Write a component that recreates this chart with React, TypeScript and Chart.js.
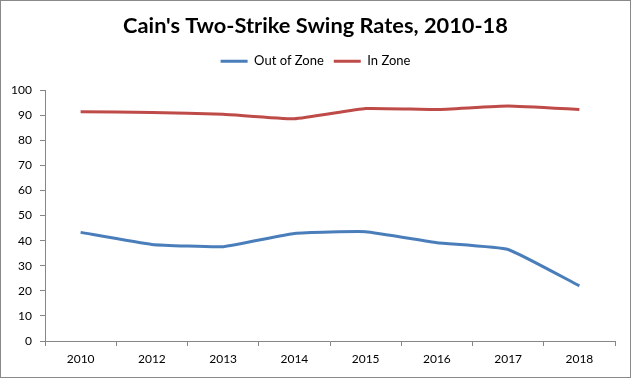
import { useEffect, useRef } from 'react';
import { Chart, registerables } from 'chart.js';

Chart.register(...registerables);

const years = ['2010', '2012', '2013', '2014', '2015', '2016', '2017', '2018'];
const outOfZone = [43.3, 38.5, 37.6, 42.9, 43.6, 39.2, 36.5, 22.0];
const inZone = [91.4, 91.1, 90.4, 88.6, 92.7, 92.3, 93.7, 92.3];
const yTicks = [0, 10, 20, 30, 40, 50, 60, 70, 80, 90, 100];

const FONT = 'Lato, "Open Sans", sans-serif';
const AXIS = '#868686';

export default function App() {
  const ref = useRef<HTMLCanvasElement | null>(null);

  useEffect(() => {
    document.body.style.margin = '0';
    const canvas = ref.current;
    if (!canvas) return;

    const background = {
      id: 'bg',
      beforeDraw(chart: any) {
        const { ctx, width, height } = chart;
        ctx.save();
        ctx.fillStyle = '#ffffff';
        ctx.fillRect(0, 0, width, height);
        ctx.strokeStyle = '#898989';
        ctx.lineWidth = 1;
        ctx.strokeRect(0.5, 0.5, width - 1, height - 1);
        ctx.restore();
      },
    };

    const chart = new Chart(canvas, {
      type: 'line',
      data: {
        labels: years,
        datasets: [
          {
            label: 'Out of Zone',
            data: outOfZone,
            xAxisID: 'x',
            yAxisID: 'y',
            borderColor: '#4A7EBB',
            backgroundColor: '#4A7EBB',
            borderWidth: 3,
            pointRadius: 0,
            tension: 0.12,
          },
          {
            label: 'In Zone',
            data: inZone,
            xAxisID: 'x',
            yAxisID: 'y',
            borderColor: '#BE4B48',
            backgroundColor: '#BE4B48',
            borderWidth: 3,
            pointRadius: 0,
            tension: 0.12,
          },
        ],
      },
      options: {
        responsive: false,
        animation: false,
        devicePixelRatio: 1,
        layout: { padding: { left: 0, right: 0, top: 0, bottom: 0 } },
        plugins: {
          title: {
            display: true,
            text: "Cain's Two-Strike Swing Rates, 2010-18",
            color: '#000000',
            font: { family: FONT, size: 21.8, weight: 'bold', lineHeight: 1.2 },
            padding: { top: 13, bottom: 5.5 },
          },
          legend: {
            display: true,
            position: 'top',
            labels: {
              color: '#000000',
              font: { family: FONT, size: 13 },
              boxWidth: 27,
              boxHeight: 3,
              padding: 10,
              generateLabels: (c: any) =>
                Chart.defaults.plugins.legend.labels
                  .generateLabels(c)
                  .map((l: any) => ({ ...l, lineWidth: 0 })),
            },
          },
          tooltip: { enabled: false },
        },
        scales: {
          x: {
            type: 'category',
            offset: true,
            grid: {
              display: true,
              offset: true,
              drawOnChartArea: false,
              drawTicks: true,
              tickLength: 5,
              color: AXIS,
            },
            border: { display: true, color: AXIS, width: 1 },
            ticks: {
              color: '#000000',
              font: { family: FONT, size: 12 },
              padding: 6,
              maxRotation: 0,
            },
            afterFit: (axis: any) => {
              axis.height = 37;
            },
          },
          y: {
            min: 0,
            max: 100,
            afterBuildTicks: (axis: any) => {
              axis.ticks = yTicks.map((v) => ({ value: v }));
            },
            grid: {
              display: true,
              drawOnChartArea: false,
              drawTicks: true,
              tickLength: 5,
              color: AXIS,
            },
            border: { display: true, color: AXIS, width: 1 },
            ticks: {
              color: '#000000',
              font: { family: FONT, size: 12 },
              padding: 8,
            },
            afterFit: (axis: any) => {
              axis.width = 45;
            },
          },
          spacer: {
            type: 'category',
            position: 'top',
            display: true,
            grid: { display: false, drawTicks: false },
            border: { display: false },
            ticks: { display: false },
            afterFit: (axis: any) => {
              axis.height = 12.5;
            },
          },
          spacerRight: {
            type: 'linear',
            position: 'right',
            min: 0,
            max: 1,
            display: true,
            grid: { display: false, drawTicks: false },
            border: { display: false },
            ticks: { display: false },
            afterFit: (axis: any) => {
              axis.width = 16;
            },
          },
        },
      } as any,
      plugins: [background],
    });

    return () => chart.destroy();
  }, []);

  return (
    <div style={{ position: 'absolute', left: 0, top: 0, width: 631, height: 378 }}>
      <canvas ref={ref} width={631} height={378} style={{ display: 'block' }} />
    </div>
  );
}
